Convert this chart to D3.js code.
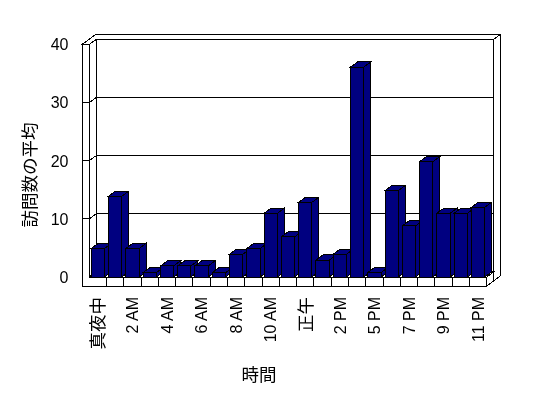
<!DOCTYPE html>
<html>
<head>
<meta charset="utf-8">
<script src="https://cdn.jsdelivr.net/npm/d3@7"></script>
<style>
    body { margin: 0; background: #fff; }
    svg { display: block; }
    text { font-family: "Liberation Sans", Arial, "Noto Sans CJK JP", sans-serif; font-size: 16px; fill: #000; }
    .jp { font-family: "Noto Sans CJK JP", sans-serif; font-size: 17.5px; }
    .labels { opacity: 0.999; }
</style>
</head>
<body>
<div class="canvas"></div>
<script>
const hours = ['真夜中', '1 AM', '2 AM', '3 AM', '4 AM', '5 AM', '6 AM', '7 AM', '8 AM', '9 AM', '10 AM', '11 AM',
    '正午', '1 PM', '2 PM', '3 PM', '5 PM', '6 PM', '7 PM', '8 PM', '9 PM', '10 PM', '11 PM'];
const visits = [4.9, 13.9, 4.9, 0.75, 1.9, 1.9, 1.9, 0.75, 3.9, 4.9, 10.95, 6.9,
    12.85, 2.9, 3.9, 36.1, 0.75, 14.85, 8.8, 19.85, 10.95, 10.95, 12.0];
const yTicks = [0, 10, 20, 30, 40];
const xTickLabels = ['真夜中', '2 AM', '4 AM', '6 AM', '8 AM', '10 AM', '正午', '2 PM', '5 PM', '7 PM', '9 PM', '11 PM'];

const width = 548, height = 398;
const plotL = 89.3, plotR = 486.7, plotB = 277, plotT = 44.5;
const wallW = 7.3, floorH = 9;
const dx = 7, dy = -5.2;   // depth of the 3D box
const navy = '#000080';

const svg = d3.select('.canvas')
    .append('svg')
    .attr('width', width)
    .attr('height', height);

const xScale = d3.scaleBand()
    .domain(hours)
    .range([plotL, plotR])
    .paddingInner(0.23)
    .paddingOuter(0.115);

const yScale = d3.scaleLinear()
    .domain([0, 40])
    .range([plotB, plotT]);

const line = d3.line();
const poly = (g, pts, fill) => g.append('path')
    .attr('d', line(pts) + 'Z')
    .attr('fill', fill)
    .attr('stroke', '#000')
    .attr('stroke-width', 1);

const box = svg.append('g').attr('shape-rendering', 'crispEdges');

//walls and floor behind the bars
poly(box, [[plotL - wallW, plotT], [plotL, plotT], [plotL + dx, plotT + dy], [plotR + dx, plotT + dy],
    [plotR + 2 * dx, plotT + 2 * dy], [plotL - wallW + 2 * dx, plotT + 2 * dy]], '#fff');
poly(box, [[plotL + dx, plotT + dy], [plotR + dx, plotT + dy], [plotR + dx, plotB + dy], [plotL + dx, plotB + dy]], '#fff');
poly(box, [[plotL, plotT], [plotL + dx, plotT + dy], [plotL + dx, plotB + dy], [plotL, plotB]], '#fff');
poly(box, [[plotR + dx, plotT + dy], [plotR + 2 * dx, plotT + 2 * dy], [plotR + 2 * dx, plotB + floorH + 2 * dy],
    [plotR + dx, plotB + floorH + dy]], '#fff');
poly(box, [[plotL, plotB], [plotR, plotB], [plotR + dx, plotB + dy], [plotL + dx, plotB + dy]], '#fff');
poly(box, [[plotR, plotB], [plotR + dx, plotB + dy], [plotR + dx, plotB + floorH + dy], [plotR, plotB + floorH]], '#fff');

//gridlines on left wall and back wall
box.selectAll('.grid')
    .data(yTicks.filter(d => d > 0 && d < 40))
    .enter()
    .append('path')
    .attr('class', 'grid')
    .attr('fill', 'none')
    .attr('stroke', '#000')
    .attr('d', d => line([[plotL, yScale(d)], [plotL + dx, yScale(d) + dy], [plotR + dx, yScale(d) + dy]]));

//bars, left to right so each front hides the previous side
const bars = svg.append('g').attr('shape-rendering', 'crispEdges');
hours.forEach((h, i) => {
    const x0 = xScale(h), x1 = x0 + xScale.bandwidth();
    const y0 = yScale(0), y1 = yScale(visits[i]);
    const g = bars.append('g').attr('class', 'bar');
    poly(g, [[x1, y0], [x1, y1], [x1 + dx, y1 + dy], [x1 + dx, y0 + dy]], navy);
    poly(g, [[x0, y1], [x1, y1], [x1 + dx, y1 + dy], [x0 + dx, y1 + dy]], navy);
    poly(g, [[x0, y0], [x1, y0], [x1, y1], [x0, y1]], navy);
});

//front faces of left wall and floor
const front = svg.append('g').attr('shape-rendering', 'crispEdges');
poly(front, [[plotL - wallW, plotT], [plotL, plotT], [plotL, plotB], [plotR, plotB], [plotR, plotB + floorH],
    [plotL - wallW, plotB + floorH]], '#fff');

const half = (xScale.step() - xScale.bandwidth()) / 2;
front.selectAll('.sep')
    .data(hours.slice(1))
    .enter()
    .append('line')
    .attr('class', 'sep')
    .attr('x1', d => xScale(d) - half)
    .attr('x2', d => xScale(d) - half)
    .attr('y1', plotB)
    .attr('y2', plotB + floorH)
    .attr('stroke', '#000');

front.selectAll('.tick')
    .data(yTicks.filter(d => d > 0 && d < 40))
    .enter()
    .append('line')
    .attr('class', 'tick')
    .attr('x1', plotL - wallW)
    .attr('x2', plotL)
    .attr('y1', d => yScale(d))
    .attr('y2', d => yScale(d))
    .attr('stroke', '#000');

const labels = svg.append('g').attr('class', 'labels');

//y tick labels
labels.selectAll('.ylab')
    .data(yTicks)
    .enter()
    .append('text')
    .attr('class', 'ylab')
    .attr('x', 68.5)
    .attr('y', d => yScale(d))
    .attr('dy', '0.36em')
    .attr('text-anchor', 'end')
    .text(d => d);

//x tick labels
labels.selectAll('.xlab')
    .data(xTickLabels)
    .enter()
    .append('text')
    .attr('class', d => /[^\x00-\x7f]/.test(d) ? 'xlab jp' : 'xlab')
    .attr('transform', d => `translate(${xScale(d) + xScale.bandwidth() / 2}, 297) rotate(-90)`)
    .attr('dy', '0.36em')
    .attr('text-anchor', 'end')
    .text(d => d);

//axis titles
labels.append('text')
    .attr('class', 'jp')
    .attr('x', 259)
    .attr('y', 375)
    .attr('dy', '0.36em')
    .attr('text-anchor', 'middle')
    .text('時間');

labels.append('text')
    .attr('class', 'jp')
    .attr('transform', 'translate(30, 175) rotate(-90)')
    .attr('dy', '0.36em')
    .attr('text-anchor', 'middle')
    .text('訪問数の平均');
</script>
</body>
</html>
